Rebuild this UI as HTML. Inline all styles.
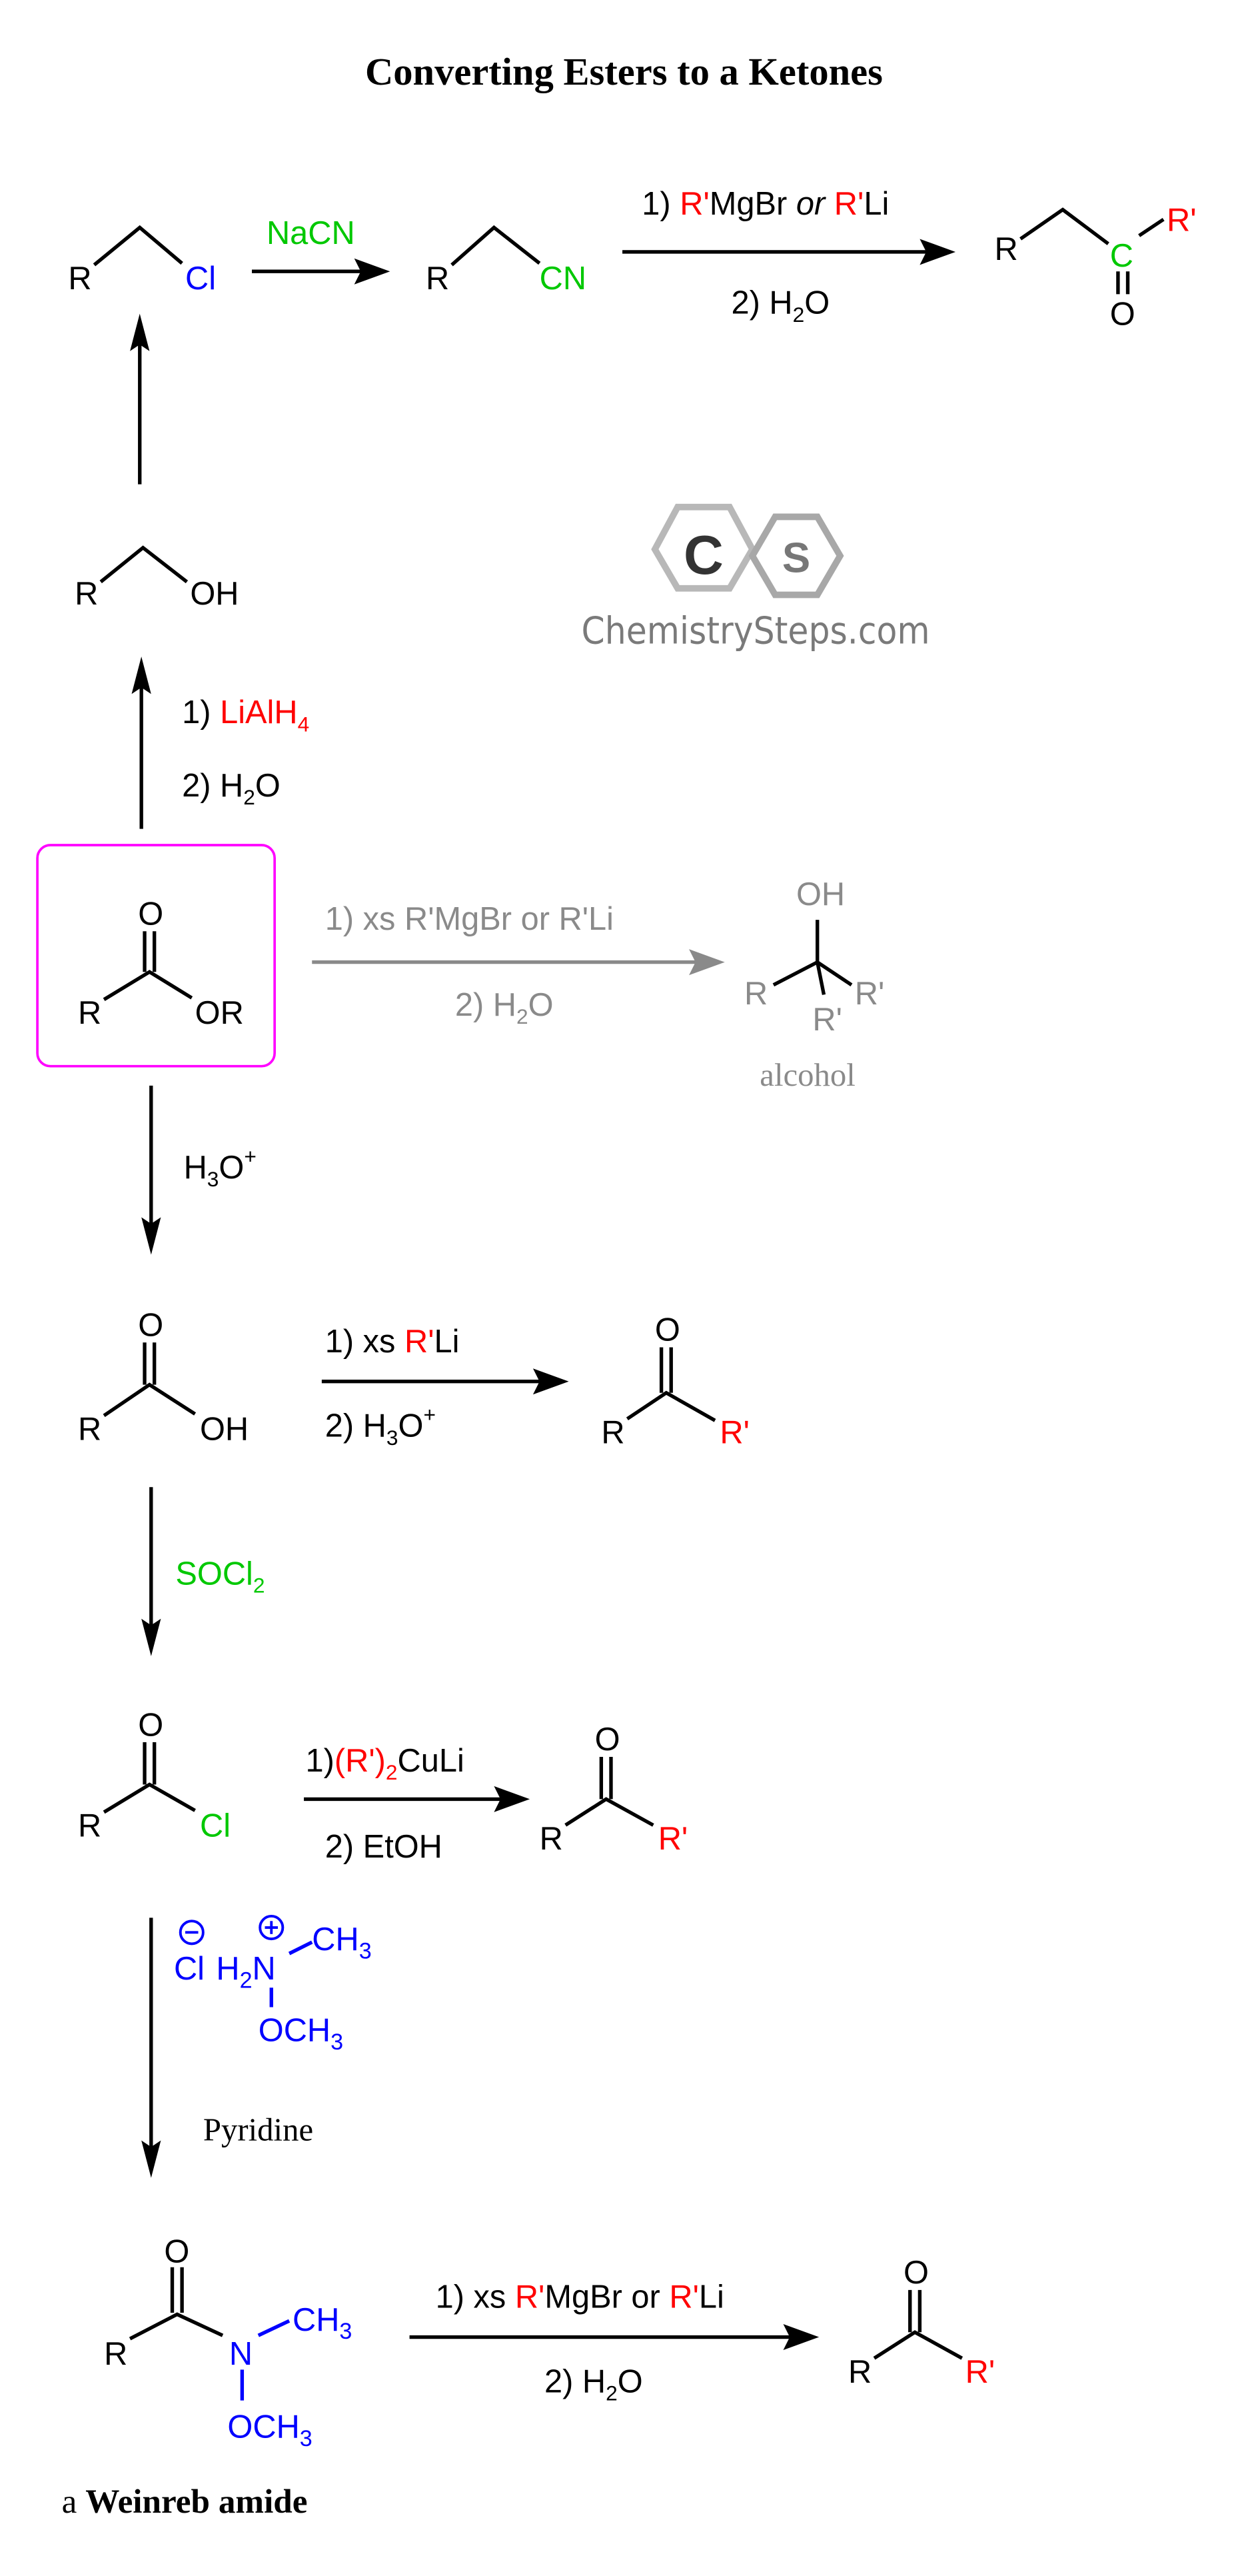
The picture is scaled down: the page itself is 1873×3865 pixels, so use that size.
<!DOCTYPE html>
<html><head><meta charset="utf-8"><style>
html,body{margin:0;padding:0;background:#fff}
svg{display:block}
text{font-family:"Liberation Sans",Arial,sans-serif;font-size:20px}
.s{font-family:"Liberation Serif",serif}
.k{fill:#000}.r{fill:#f00}.g{fill:#00c800}.b{fill:#0000ff}.gr{fill:#8a8a8a}
line,polyline{stroke:#000;stroke-width:2.2;fill:none}
</style></head><body>
<svg width="1873" height="3865" viewBox="0 0 768 1585" preserveAspectRatio="none" xmlns="http://www.w3.org/2000/svg">
<text x="384" y="52" text-anchor="middle" class="s" style="font-size:24px;font-weight:bold">Converting Esters to a Ketones</text>

<!-- Row1 -->
<text x="42" y="178">R</text>
<polyline points="58,163 86,140 112,162"/>
<text x="114" y="178" class="b">Cl</text>
<line x1="155" y1="167" x2="232" y2="167"/><path d="M240,167 L218,159 L222,167 L218,175z"/>
<text x="164" y="150" class="g">NaCN</text>
<text x="262" y="178">R</text>
<polyline points="278,163 304,140 332,162"/>
<text x="332" y="178" class="g">CN</text>
<line x1="383" y1="155" x2="578" y2="155"/><path d="M588,155 L566,147 L570,155 L566,163z"/>
<text x="395" y="132">1) <tspan class="r">R'</tspan>MgBr <tspan font-style="italic">or</tspan>  <tspan class="r">R'</tspan>Li</text>
<text x="450" y="193">2) H<tspan font-size="13" dy="5">2</tspan><tspan dy="-5">O</tspan></text>
<text x="612" y="160">R</text>
<polyline points="628,147 654,129 682,150"/>
<text x="683" y="164" class="g">C</text>
<line x1="701" y1="145" x2="716" y2="135"/>
<text x="718" y="142" class="r">R'</text>
<line x1="688" y1="167" x2="688" y2="181"/><line x1="694" y1="167" x2="694" y2="181"/>
<text x="683" y="200">O</text>

<!-- up arrow 1 -->
<line x1="86" y1="298" x2="86" y2="205"/><path d="M86,193 L80,216 L86,212 L92,216z"/>
<text x="46" y="372">R</text>
<polyline points="62,358 88,337 115,358"/>
<text x="117" y="372">OH</text>

<!-- logo -->
<g fill="none" stroke="#b8b8b8" stroke-width="4">
<polygon points="417,312 449,312 463,338 449,362 417,362 403,338"/>
<polygon points="477,318 503,318 517,342 503,366 477,366 463,342" stroke="#a8a8a8"/>
</g>
<text x="433" y="353" text-anchor="middle" style="font-size:34px;font-weight:bold;fill:#333">C</text>
<text x="490" y="352" text-anchor="middle" style="font-size:26px;font-weight:bold;fill:#777">S</text>
<text x="465" y="396" text-anchor="middle" style="font-size:23px;fill:#7a7a7a;font-family:'DejaVu Sans Condensed','DejaVu Sans',sans-serif">ChemistrySteps.com</text>

<!-- up arrow 2 -->
<line x1="87" y1="510" x2="87" y2="416"/><path d="M87,404 L81,427 L87,423 L93,427z"/>
<text x="112" y="445">1) <tspan class="r">LiAlH<tspan font-size="13" dy="5">4</tspan></tspan></text>
<text x="112" y="490">2) H<tspan font-size="13" dy="5">2</tspan><tspan dy="-5">O</tspan></text>

<!-- ester -->
<rect x="23" y="520" width="146" height="136" rx="8" fill="none" stroke="#ff00ff" stroke-width="1.5"/>
<text x="85" y="569">O</text>
<line x1="89" y1="573" x2="89" y2="598"/><line x1="95" y1="573" x2="95" y2="598"/>
<text x="48" y="630">R</text>
<polyline points="64,615 92,598 118,614"/>
<text x="120" y="630">OR</text>
<line x1="192" y1="592" x2="436" y2="592" style="stroke:#8a8a8a"/><path d="M446,592 L424,584 L428,592 L424,600z" fill="#8a8a8a"/>
<text x="200" y="572" class="gr">1) xs R'MgBr or R'Li</text>
<text x="280" y="625" class="gr">2) H<tspan font-size="13" dy="5">2</tspan><tspan dy="-5">O</tspan></text>
<text x="490" y="557" class="gr">OH</text>
<g style="stroke:#8a8a8a"><line x1="503" y1="566" x2="503" y2="592"/><line x1="476" y1="606" x2="503" y2="592"/><line x1="503" y1="592" x2="524" y2="606"/><line x1="503" y1="592" x2="507" y2="612"/></g>
<text x="458" y="618" class="gr">R</text>
<text x="526" y="618" class="gr">R'</text>
<text x="500" y="634" class="gr">R'</text>
<text x="497" y="668" class="s gr" text-anchor="middle" style="font-size:20px">alcohol</text>

<!-- down arrow H3O+ -->
<line x1="93" y1="668" x2="93" y2="760"/><path d="M93,772 L87,749 L93,753 L99,749z"/>
<text x="113" y="725">H<tspan font-size="13" dy="5">3</tspan><tspan dy="-5">O</tspan><tspan font-size="13" dy="-9">+</tspan></text>

<!-- acid -->
<text x="85" y="822">O</text>
<line x1="89" y1="826" x2="89" y2="852"/><line x1="95" y1="826" x2="95" y2="852"/>
<text x="48" y="886">R</text>
<polyline points="64,871 92,852 120,870"/>
<text x="123" y="886">OH</text>
<line x1="198" y1="850" x2="340" y2="850"/><path d="M350,850 L328,842 L332,850 L328,858z"/>
<text x="200" y="832">1) xs <tspan class="r">R'</tspan>Li</text>
<text x="200" y="884">2) H<tspan font-size="13" dy="5">3</tspan><tspan dy="-5">O</tspan><tspan font-size="13" dy="-9">+</tspan></text>
<text x="403" y="825">O</text>
<line x1="407" y1="829" x2="407" y2="857"/><line x1="413" y1="829" x2="413" y2="857"/>
<text x="370" y="888">R</text>
<polyline points="386,873 410,857 440,874"/>
<text x="443" y="888" class="r">R'</text>

<!-- SOCl2 -->
<line x1="93" y1="915" x2="93" y2="1007"/><path d="M93,1019 L87,996 L93,1000 L99,996z"/>
<text x="108" y="975" class="g">SOCl<tspan font-size="13" dy="5">2</tspan></text>

<!-- acyl chloride -->
<text x="85" y="1068">O</text>
<line x1="89" y1="1072" x2="89" y2="1098"/><line x1="95" y1="1072" x2="95" y2="1098"/>
<text x="48" y="1130">R</text>
<polyline points="64,1115 92,1098 120,1114"/>
<text x="123" y="1130" class="g">Cl</text>
<line x1="187" y1="1107" x2="316" y2="1107"/><path d="M326,1107 L304,1099 L308,1107 L304,1115z"/>
<text x="188" y="1090">1)<tspan class="r">(R')<tspan font-size="13" dy="5">2</tspan></tspan><tspan dy="-5">CuLi</tspan></text>
<text x="200" y="1143">2) EtOH</text>
<text x="366" y="1077">O</text>
<line x1="370" y1="1081" x2="370" y2="1107"/><line x1="376" y1="1081" x2="376" y2="1107"/>
<text x="332" y="1138">R</text>
<polyline points="348,1123 373,1107 402,1123"/>
<text x="405" y="1138" class="r">R'</text>

<!-- Weinreb reagent -->
<line x1="93" y1="1180" x2="93" y2="1328"/><path d="M93,1340 L87,1317 L93,1321 L99,1317z"/>
<circle cx="118" cy="1189" r="7" fill="none" stroke="#0000ff" stroke-width="1.6"/><line x1="114" y1="1189" x2="122" y2="1189" style="stroke:#0000ff;stroke-width:1.6"/>
<circle cx="167" cy="1186" r="7" fill="none" stroke="#0000ff" stroke-width="1.6"/><line x1="163" y1="1186" x2="171" y2="1186" style="stroke:#0000ff;stroke-width:1.6"/><line x1="167" y1="1182" x2="167" y2="1190" style="stroke:#0000ff;stroke-width:1.6"/>
<text x="107" y="1218" class="b">Cl</text>
<text x="133" y="1218" class="b">H<tspan font-size="14" dy="5">2</tspan><tspan dy="-5">N</tspan></text>
<line x1="178" y1="1202" x2="192" y2="1195" style="stroke:#0000ff"/>
<text x="192" y="1200" class="b">CH<tspan font-size="14" dy="5">3</tspan></text>
<line x1="167" y1="1223" x2="167" y2="1235" style="stroke:#0000ff"/>
<text x="159" y="1256" class="b">OCH<tspan font-size="14" dy="5">3</tspan></text>
<text x="125" y="1317" class="s" style="font-size:20px">Pyridine</text>

<!-- Weinreb amide -->
<text x="101" y="1392">O</text>
<line x1="106" y1="1395" x2="106" y2="1423"/><line x1="112" y1="1395" x2="112" y2="1423"/>
<text x="64" y="1455">R</text>
<polyline points="80,1439 109,1424 137,1437"/>
<text x="141" y="1455" class="b">N</text>
<line x1="159" y1="1437" x2="178" y2="1428" style="stroke:#0000ff"/>
<text x="180" y="1434" class="b">CH<tspan font-size="14" dy="5">3</tspan></text>
<line x1="149" y1="1458" x2="149" y2="1477" style="stroke:#0000ff"/>
<text x="140" y="1500" class="b">OCH<tspan font-size="14" dy="5">3</tspan></text>
<text x="38" y="1546" class="s" style="font-size:21px">a <tspan font-weight="bold">Weinreb amide</tspan></text>
<line x1="252" y1="1438" x2="494" y2="1438"/><path d="M504,1438 L482,1430 L486,1438 L482,1446z"/>
<text x="268" y="1420">1) xs <tspan class="r">R'</tspan>MgBr or <tspan class="r">R'</tspan>Li</text>
<text x="335" y="1472">2) H<tspan font-size="13" dy="5">2</tspan><tspan dy="-5">O</tspan></text>
<text x="556" y="1405">O</text>
<line x1="560" y1="1409" x2="560" y2="1435"/><line x1="566" y1="1409" x2="566" y2="1435"/>
<text x="522" y="1466">R</text>
<polyline points="538,1451 563,1435 592,1451"/>
<text x="594" y="1466" class="r">R'</text>
</svg>
</body></html>
